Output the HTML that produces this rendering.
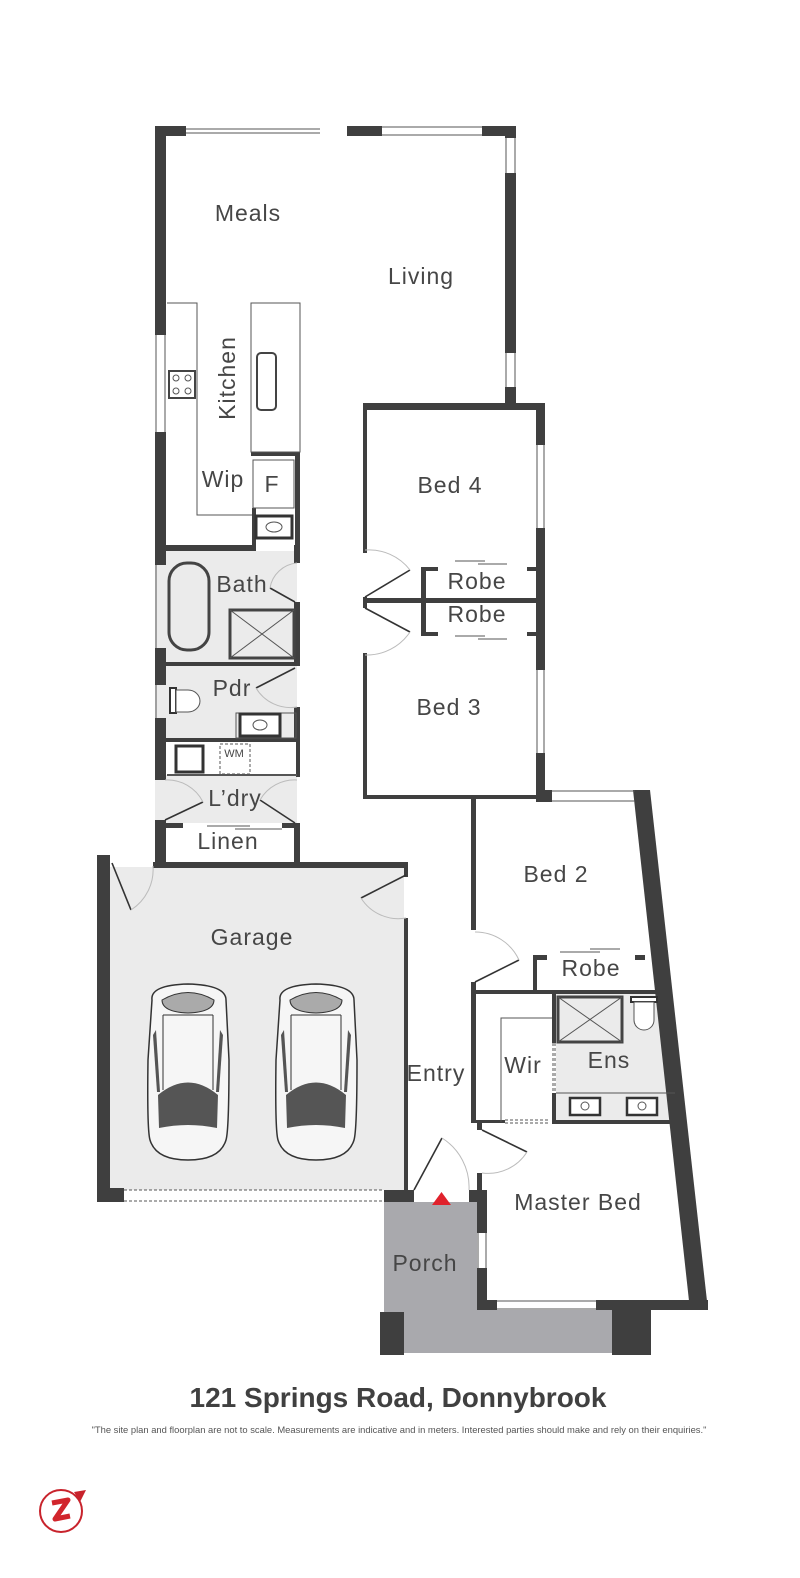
<!DOCTYPE html>
<html><head><meta charset="utf-8"><style>
html,body{margin:0;padding:0;background:#fff}
svg{display:block}
text{font-family:"Liberation Sans",sans-serif;fill:#464646}
</style></head><body>
<svg width="800" height="1578" viewBox="0 0 800 1578" xmlns="http://www.w3.org/2000/svg">
<!-- fills -->
<rect x="155" y="551" width="142" height="272" fill="#ebebeb"/>
<rect x="165" y="742" width="131" height="33" fill="#fff"/>
<rect x="110" y="867" width="294" height="323" fill="#ebebeb"/>
<rect x="556" y="994" width="116" height="126" fill="#ebebeb"/>
<rect x="384" y="1202" width="93" height="108" fill="#a9a9ad"/>
<rect x="384" y="1310" width="228" height="43" fill="#a9a9ad"/>

<g fill="#3f3f3f">
<rect x="155" y="126" width="31" height="10"/>
<rect x="347" y="126" width="35" height="10"/>
<rect x="482" y="126" width="34" height="10"/>
<rect x="155" y="126" width="11" height="209"/>
<rect x="155" y="432" width="11" height="133"/>
<rect x="155" y="648" width="11" height="37"/>
<rect x="155" y="718" width="11" height="62"/>
<rect x="155" y="820" width="11" height="45"/>
<rect x="505" y="126" width="11" height="12"/>
<rect x="505" y="173" width="11" height="180"/>
<rect x="505" y="387" width="11" height="23"/>
<rect x="251" y="452" width="49" height="4"/>
<rect x="295" y="452" width="5" height="93"/>
<rect x="252" y="508" width="4" height="40"/>
<rect x="155" y="545" width="101" height="6"/>
<rect x="294" y="545" width="6" height="18"/>
<rect x="294" y="602" width="6" height="60"/>
<rect x="155" y="662" width="145" height="4"/>
<rect x="294" y="707" width="6" height="31"/>
<rect x="155" y="738" width="145" height="4"/>
<rect x="296" y="742" width="4" height="35"/>
<rect x="165" y="823" width="18" height="5"/>
<rect x="282" y="823" width="18" height="5"/>
<rect x="294" y="823" width="6" height="40"/>
<rect x="153" y="862" width="255" height="6"/>
<rect x="97" y="855" width="13" height="347"/>
<rect x="97" y="1188" width="27" height="14"/>
<rect x="384" y="1190" width="30" height="12"/>
<rect x="404" y="862" width="4" height="15"/>
<rect x="404" y="918" width="4" height="272"/>
<rect x="363" y="403" width="182" height="7"/>
<rect x="536" y="403" width="9" height="42"/>
<rect x="536" y="528" width="9" height="142"/>
<rect x="536" y="753" width="9" height="47"/>
<rect x="363" y="403" width="4" height="150"/>
<rect x="363" y="597" width="4" height="11"/>
<rect x="363" y="653" width="4" height="145"/>
<rect x="363" y="795" width="182" height="4"/>
<rect x="363" y="598" width="173" height="5"/>
<rect x="421" y="567" width="5" height="69"/>
<rect x="421" y="567" width="17" height="4"/>
<rect x="527" y="567" width="9" height="4"/>
<rect x="421" y="632" width="17" height="4"/>
<rect x="527" y="632" width="9" height="4"/>
<rect x="536" y="790" width="16" height="12"/>
<rect x="471" y="798" width="5" height="132"/>
<polygon points="633,790 650,790 708,1310 690,1310"/>
<rect x="533" y="955" width="4" height="35"/>
<rect x="533" y="955" width="14" height="5"/>
<rect x="635" y="955" width="10" height="5"/>
<rect x="471" y="990" width="192" height="4"/>
<rect x="471" y="982" width="5" height="141"/>
<rect x="471" y="1120" width="34" height="3"/>
<rect x="552" y="1120" width="123" height="4"/>
<rect x="552" y="993" width="4" height="50"/>
<rect x="552" y="1093" width="4" height="30"/>
<rect x="477" y="1122" width="5" height="8"/>
<rect x="477" y="1173" width="5" height="17"/>
<rect x="469" y="1190" width="18" height="12"/>
<rect x="477" y="1190" width="10" height="43"/>
<rect x="477" y="1268" width="10" height="42"/>
<rect x="477" y="1300" width="20" height="10"/>
<rect x="596" y="1300" width="112" height="10"/>
<rect x="380" y="1312" width="24" height="43"/>
<rect x="612" y="1302" width="39" height="53"/>
</g>

<g fill="none" stroke="#555" stroke-width="1">
<line x1="186" y1="129" x2="320" y2="129"/><line x1="186" y1="133" x2="320" y2="133"/>
<line x1="382" y1="127" x2="482" y2="127"/><line x1="382" y1="135" x2="482" y2="135"/>
<line x1="506" y1="138" x2="506" y2="173"/><line x1="515" y1="138" x2="515" y2="173"/>
<line x1="506" y1="353" x2="506" y2="387"/><line x1="515" y1="353" x2="515" y2="387"/>
<line x1="156" y1="335" x2="156" y2="432"/><line x1="165" y1="335" x2="165" y2="432"/>
<line x1="537" y1="445" x2="537" y2="528"/><line x1="544" y1="445" x2="544" y2="528"/>
<line x1="537" y1="670" x2="537" y2="753"/><line x1="544" y1="670" x2="544" y2="753"/>
<line x1="552" y1="791" x2="635" y2="791"/><line x1="552" y1="801" x2="635" y2="801"/>
<line x1="478" y1="1233" x2="478" y2="1268"/><line x1="486" y1="1233" x2="486" y2="1268"/>
<line x1="497" y1="1301" x2="596" y2="1301"/><line x1="497" y1="1309" x2="596" y2="1309"/>
<line x1="156" y1="565" x2="156" y2="648"/><line x1="156" y1="685" x2="156" y2="718"/>
<line x1="455" y1="561" x2="485" y2="561"/><line x1="478" y1="564" x2="507" y2="564"/>
<line x1="455" y1="636" x2="485" y2="636"/><line x1="478" y1="639" x2="507" y2="639"/>
<line x1="207" y1="826" x2="250" y2="826"/><line x1="235" y1="829" x2="282" y2="829"/>
<line x1="560" y1="952" x2="600" y2="952"/><line x1="590" y1="949" x2="620" y2="949"/>
<polyline points="167,303 197,303 197,515 252,515"/>
<rect x="251" y="303" width="49" height="149"/>
<rect x="253" y="460" width="41" height="48"/>
<rect x="257" y="353" width="19" height="57" rx="4" stroke-width="2" stroke="#444"/>
<rect x="169" y="563" width="40" height="87" rx="18" stroke-width="3" stroke="#444"/>
<rect x="230" y="610" width="64" height="48" stroke-width="3" stroke="#444"/>
<line x1="230" y1="610" x2="294" y2="658"/><line x1="294" y1="610" x2="230" y2="658"/>
<rect x="236" y="713" width="60" height="25"/>
<line x1="167" y1="775" x2="297" y2="775" stroke-width="2"/>
<rect x="220" y="744" width="30" height="30" stroke-dasharray="3,2"/>
<rect x="558" y="997" width="64" height="45" stroke-width="3" stroke="#444"/>
<line x1="558" y1="997" x2="622" y2="1042"/><line x1="622" y1="997" x2="558" y2="1042"/>
<line x1="556" y1="1093" x2="675" y2="1093"/>
<polyline points="501,1122 501,1018 552,1018"/>
<line x1="553" y1="1043" x2="553" y2="1093" stroke-dasharray="3,2"/>
<line x1="555" y1="1043" x2="555" y2="1093" stroke-dasharray="3,2"/>
<line x1="505" y1="1120" x2="550" y2="1120" stroke-dasharray="3,2"/>
<line x1="505" y1="1123" x2="550" y2="1123" stroke-dasharray="3,2"/>
<line x1="124" y1="1190" x2="384" y2="1190" stroke-dasharray="3,2"/>
<line x1="124" y1="1201" x2="384" y2="1201" stroke-dasharray="3,2"/>
</g>
<rect x="169" y="371" width="26" height="27" fill="#fff" stroke="#444" stroke-width="2"/>
<g fill="none" stroke="#555" stroke-width="1"><circle cx="176" cy="378" r="3"/><circle cx="188" cy="378" r="3"/><circle cx="176" cy="391" r="3"/><circle cx="188" cy="391" r="3"/></g>
<rect x="256" y="516" width="36" height="22" fill="#fff" stroke="#333" stroke-width="3"/>
<ellipse cx="274" cy="527" rx="8" ry="5" fill="none" stroke="#555"/>
<rect x="240" y="714" width="40" height="22" fill="#fff" stroke="#333" stroke-width="3"/>
<ellipse cx="260" cy="725" rx="7" ry="5" fill="none" stroke="#555"/>
<rect x="176" y="746" width="27" height="26" fill="#fff" stroke="#333" stroke-width="3"/>
<rect x="170" y="688" width="6" height="25" fill="#fff" stroke="#333" stroke-width="2"/>
<path d="M176,690 h12 a12,11 0 0 1 0,22 h-12 z" fill="#fff" stroke="#555"/>
<rect x="631" y="997" width="26" height="5" fill="#fff" stroke="#333" stroke-width="2"/>
<path d="M634,1002 v18 a10,10 0 0 0 20,0 v-18 z" fill="#fff" stroke="#555"/>
<rect x="570" y="1098" width="30" height="17" fill="#fff" stroke="#333" stroke-width="2.5"/>
<rect x="627" y="1098" width="30" height="17" fill="#fff" stroke="#333" stroke-width="2.5"/>
<circle cx="585" cy="1106" r="4" fill="none" stroke="#555"/><circle cx="642" cy="1106" r="4" fill="none" stroke="#555"/>

<g fill="none" stroke="#333" stroke-width="1.6">
<line x1="365" y1="597" x2="410" y2="570"/><line x1="365" y1="608" x2="410" y2="632"/>
<line x1="295" y1="602" x2="270" y2="588"/><line x1="295" y1="668" x2="256" y2="688"/>
<line x1="165" y1="820" x2="203" y2="802"/><line x1="295" y1="823" x2="260" y2="800"/>
<line x1="112" y1="863" x2="131" y2="910"/><line x1="406" y1="875" x2="361" y2="898"/>
<line x1="475" y1="982" x2="519" y2="960"/><line x1="482" y1="1130" x2="527" y2="1152"/>
<line x1="414" y1="1190" x2="442" y2="1138"/>
</g>
<g fill="none" stroke="#bbb" stroke-width="1">
<path d="M410,570 A52,52 0 0 0 365,550"/><path d="M410,632 A52,52 0 0 1 365,655"/>
<path d="M270,588 A30,30 0 0 1 297,563"/><path d="M256,688 A40,40 0 0 0 297,707"/>
<path d="M203,802 A40,40 0 0 0 165,780"/><path d="M260,800 A40,40 0 0 1 297,780"/>
<path d="M131,910 A48,48 0 0 0 153,866"/><path d="M361,898 A44,44 0 0 0 406,918"/>
<path d="M519,960 A48,48 0 0 0 475,932"/><path d="M527,1152 A46,46 0 0 1 482,1173"/>
<path d="M442,1138 A58,58 0 0 1 469,1190"/>
</g>

<g id="car">
<path d="M152,1000 Q150,985 188,984 Q226,985 226,1000 L229,1060 Q229,1130 226,1140 Q220,1160 188,1160 Q156,1160 150,1140 Q147,1130 148,1060 Z" fill="#f6f6f6" stroke="#333" stroke-width="1.5"/>
<path d="M162,1000 Q188,985 214,1000 Q214,1012 188,1013 Q162,1012 162,1000 Z" fill="#aaa" stroke="#333"/>
<path d="M158,1095 Q188,1070 218,1095 L217,1128 Q188,1122 159,1128 Z" fill="#555"/>
<path d="M156,1030 L160,1092 L157,1092 L153,1035 Z" fill="#555"/>
<path d="M220,1030 L216,1092 L219,1092 L223,1035 Z" fill="#555"/>
<line x1="163" y1="1015" x2="163" y2="1090" stroke="#333"/><line x1="213" y1="1015" x2="213" y2="1090" stroke="#333"/>
<line x1="163" y1="1015" x2="213" y2="1015" stroke="#333"/>
</g>
<use href="#car" transform="translate(128,0)"/>

<polygon points="432,1205 451,1205 441.5,1192" fill="#e0222c"/>

<g font-size="23" text-anchor="middle" letter-spacing="1">
<text x="248" y="221">Meals</text>
<text x="421" y="284">Living</text>
<text transform="translate(235,378) rotate(-90)">Kitchen</text>
<text x="223" y="487">Wip</text>
<text x="272" y="492">F</text>
<text x="450" y="493">Bed 4</text>
<text x="242" y="592">Bath</text>
<text x="477" y="589">Robe</text>
<text x="477" y="622">Robe</text>
<text x="232" y="696">Pdr</text>
<text x="449" y="715">Bed 3</text>
<text x="235" y="806">L’dry</text>
<text x="228" y="849">Linen</text>
<text x="556" y="882">Bed 2</text>
<text x="252" y="945">Garage</text>
<text x="591" y="976">Robe</text>
<text x="523" y="1073">Wir</text>
<text x="609" y="1068">Ens</text>
<text x="436" y="1081">Entry</text>
<text x="578" y="1210">Master Bed</text>
<text x="425" y="1271">Porch</text>
</g>
<text x="234" y="757" font-size="11" text-anchor="middle">WM</text>
<text x="398" y="1407" font-size="28" font-weight="bold" text-anchor="middle" style="fill:#404040">121 Springs Road, Donnybrook</text>
<text x="399" y="1433" font-size="9.4" text-anchor="middle" style="fill:#555">"The site plan and floorplan are not to scale. Measurements are indicative and in meters. Interested parties should make and rely on their enquiries."</text>
<circle cx="61" cy="1511" r="21" fill="none" stroke="#c8232c" stroke-width="2"/>
<polygon points="74,1492 86,1490 80,1502" fill="#c8232c"/>
<path d="M52,1503 L68,1500 L55,1519 L70,1516" fill="none" stroke="#d1252c" stroke-width="5" stroke-linejoin="round"/>
</svg>
</body></html>
